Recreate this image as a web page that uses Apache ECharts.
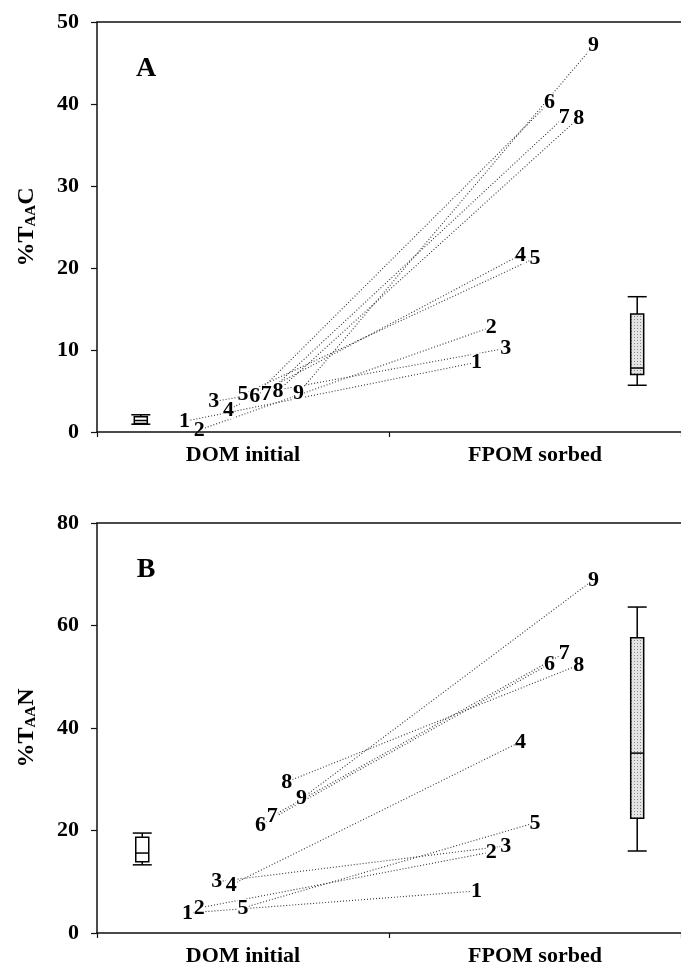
<!DOCTYPE html>
<html>
<head>
<meta charset="utf-8">
<script src="https://cdn.jsdelivr.net/npm/echarts@6/dist/echarts.min.js"></script>
<style>html,body{margin:0;padding:0;background:#fff}#c{width:681px;height:969px}</style>
</head>
<body>
<div id="c"></div>
<script>
// ---------- data ----------
const categories = ['DOM initial', 'FPOM sorbed'];
const sampleIds = ['1','2','3','4','5','6','7','8','9'];

// Panel A: %TAA C
const aDomX  = [0.30, 0.35, 0.40, 0.45, 0.50, 0.54, 0.58, 0.62, 0.69];
const aDomY  = [1.3, 0.25, 3.7, 2.7, 4.6, 4.4, 4.6, 5.0, 4.75];
const aFpomX = [1.30, 1.35, 1.40, 1.45, 1.50, 1.55, 1.60, 1.65, 1.70];
const aFpomY = [8.5, 12.8, 10.2, 21.6, 21.2, 40.2, 38.4, 38.3, 47.1];
const aDomBox  = [0.15, 0.95, 1.05, 1.4, 1.85, 2.1];   // x, min, q1, median, q3, max
const aFpomBox = [1.85, 5.7, 7.0, 7.8, 14.4, 16.5];
const aTicks = {min: 0, max: 50, interval: 10};

// Panel B: %TAA N
const bDomX  = [0.31, 0.35, 0.41, 0.46, 0.50, 0.56, 0.60, 0.65, 0.70];
const bDomY  = [3.9, 4.9, 10.0, 9.4, 4.9, 21.1, 22.8, 29.5, 26.2];
const bFpomX = [1.30, 1.35, 1.40, 1.45, 1.50, 1.55, 1.60, 1.65, 1.70];
const bFpomY = [8.2, 15.8, 17.0, 37.3, 21.5, 52.5, 54.6, 52.3, 68.9];
const bDomBox  = [0.155, 13.3, 13.9, 15.6, 18.7, 19.5];
const bFpomBox = [1.85, 16.0, 22.4, 35.1, 57.6, 63.6];
const bTicks = {min: 0, max: 80, interval: 20};

// ---------- styling ----------
const SERIF = "'Liberation Serif', 'Times New Roman', serif";
const AXC = '#111';

// stippled fill for the sorbed-FPOM boxes
const stipple = (function () {
  const c = document.createElement('canvas');
  c.width = 3; c.height = 3;
  const g = c.getContext('2d');
  g.fillStyle = '#e4e4e4'; g.fillRect(0, 0, 3, 3);
  g.fillStyle = '#8a8a8a'; g.fillRect(1, 1, 1, 1);
  return {image: c, repeat: 'repeat'};
})();

function boxSeries(box, fill, gridIdx) {
  return {
    type: 'custom',
    xAxisIndex: gridIdx * 2 + 1,
    yAxisIndex: gridIdx,
    silent: true,
    z: 4,
    data: [box],
    renderItem: function (params, api) {
      const x = api.value(0);
      const lo = api.coord([x, api.value(1)]);
      const q1 = api.coord([x, api.value(2)]);
      const md = api.coord([x, api.value(3)]);
      const q3 = api.coord([x, api.value(4)]);
      const hi = api.coord([x, api.value(5)]);
      const cx = lo[0], bw = 6.5, cw = 9.5;
      const st = {stroke: '#000', lineWidth: 1.5, fill: 'none'};
      return {
        type: 'group',
        children: [
          {type: 'line', shape: {x1: cx, y1: hi[1], x2: cx, y2: q3[1]}, style: st},
          {type: 'line', shape: {x1: cx, y1: q1[1], x2: cx, y2: lo[1]}, style: st},
          {type: 'line', shape: {x1: cx - cw, y1: hi[1], x2: cx + cw, y2: hi[1]}, style: st},
          {type: 'line', shape: {x1: cx - cw, y1: lo[1], x2: cx + cw, y2: lo[1]}, style: st},
          {type: 'rect', shape: {x: cx - bw, y: q3[1], width: 2 * bw, height: q1[1] - q3[1]},
            style: {stroke: '#000', lineWidth: 1.5, fill: fill}},
          {type: 'line', shape: {x1: cx - bw, y1: md[1], x2: cx + bw, y2: md[1]}, style: st}
        ]
      };
    }
  };
}

function panelSeries(domX, domY, fpomX, fpomY, gridIdx) {
  const out = [];
  for (let i = 0; i < sampleIds.length; i++) {
    out.push({
      type: 'line',
      xAxisIndex: gridIdx * 2 + 1,
      yAxisIndex: gridIdx,
      silent: true,
      symbol: 'none',
      z: 2,
      lineStyle: {type: [1, 2], width: 1.1, color: '#333'},
      data: [[domX[i], domY[i]], [fpomX[i], fpomY[i]]]
    });
  }
  const pts = (xs, ys) => xs.map((x, i) => ({name: sampleIds[i], value: [x, ys[i]]}));
  const mk = (xs, ys) => ({
    type: 'custom', xAxisIndex: gridIdx * 2 + 1, yAxisIndex: gridIdx, silent: true, z: 3,
    data: pts(xs, ys),
    renderItem: function (params, api) {
      const p = api.coord([api.value(0), api.value(1)]);
      return {
        type: 'text', x: p[0], y: p[1],
        style: {
          text: sampleIds[params.dataIndex],
          font: 'bold 22px ' + SERIF, fill: '#000',
          align: 'center', verticalAlign: 'middle',
          backgroundColor: '#fff', padding: [-2, 0, -2, 0]
        }
      };
    }
  });
  out.push(mk(domX, domY));
  out.push(mk(fpomX, fpomY));
  return out;
}

function catAxis(gridIdx) {
  return {
    type: 'category', gridIndex: gridIdx, data: categories, position: 'bottom',
    boundaryGap: true, z: 5,
    axisLine: {lineStyle: {color: AXC, width: 1.5}},
    axisTick: {show: true, inside: false, length: 5, lineStyle: {color: AXC, width: 1.2}},
    axisLabel: {fontFamily: SERIF, fontWeight: 'bold', fontSize: 22, color: '#000', margin: 12},
    splitLine: {show: false}
  };
}
function posAxis(gridIdx) {
  return {
    type: 'value', gridIndex: gridIdx, min: 0, max: 2, position: 'top',
    axisLine: {show: true, lineStyle: {color: AXC, width: 1.5}},
    axisTick: {show: false}, axisLabel: {show: false}, splitLine: {show: false}
  };
}
function valAxis(gridIdx, ticks, letter) {
  return {
    type: 'value', gridIndex: gridIdx, min: ticks.min, max: ticks.max, interval: ticks.interval,
    position: 'left', z: 5,
    name: '{p|%}{t|T}{s|AA}{t|' + letter + '}',
    nameLocation: 'middle', nameRotate: 90, nameGap: 58,
    nameTextStyle: {
      rich: {
        p: {fontFamily: SERIF, fontWeight: 'bold', fontSize: 24, color: '#000', lineHeight: 24, verticalAlign: 'top'},
        t: {fontFamily: SERIF, fontWeight: 'bold', fontSize: 24, color: '#000', lineHeight: 24, verticalAlign: 'top'},
        s: {fontFamily: SERIF, fontWeight: 'bold', fontSize: 15, color: '#000', lineHeight: 15, verticalAlign: 'bottom', padding: [13, 0, 0, 0]}
      }
    },
    axisLine: {show: true, lineStyle: {color: AXC, width: 1.5}},
    axisTick: {show: true, inside: false, length: 6, lineStyle: {color: AXC, width: 1.2}},
    axisLabel: {fontFamily: SERIF, fontWeight: 'bold', fontSize: 22, color: '#000', margin: 18},
    splitLine: {show: false}
  };
}

const option = {
  animation: false,
  backgroundColor: '#fff',
  grid: [
    {left: 97, top: 22, width: 586, height: 410},
    {left: 97, top: 523, width: 586, height: 410}
  ],
  xAxis: [catAxis(0), posAxis(0), catAxis(1), posAxis(1)],
  yAxis: [valAxis(0, aTicks, 'C'), valAxis(1, bTicks, 'N')],
  graphic: [
    {type: 'text', x: 146, y: 69, style: {text: 'A', font: 'bold 28px ' + SERIF, fill: '#000',
      align: 'center', verticalAlign: 'middle', textAlign: 'center', textVerticalAlign: 'middle'}},
    {type: 'text', x: 146, y: 570, style: {text: 'B', font: 'bold 28px ' + SERIF, fill: '#000',
      align: 'center', verticalAlign: 'middle', textAlign: 'center', textVerticalAlign: 'middle'}}
  ],
  series: [].concat(
    panelSeries(aDomX, aDomY, aFpomX, aFpomY, 0),
    panelSeries(bDomX, bDomY, bFpomX, bFpomY, 1),
    [boxSeries(aDomBox, '#fff', 0), boxSeries(aFpomBox, stipple, 0),
     boxSeries(bDomBox, '#fff', 1), boxSeries(bFpomBox, stipple, 1)]
  )
};

const chart = echarts.init(document.getElementById('c'), null, {renderer: 'canvas'});
chart.setOption(option);
</script>
</body>
</html>
